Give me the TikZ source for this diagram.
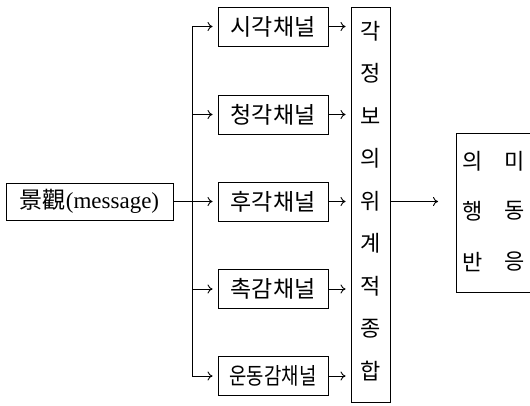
\documentclass[tikz,border=0pt]{standalone}
\usepackage{fontspec}
\setmainfont{Liberation Serif}
\newfontfamily\kr{Noto Sans CJK KR}
\usetikzlibrary{arrows.meta}
\begin{document}
\begin{tikzpicture}[x=1pt,y=-1pt,
  box/.style={draw, line width=0.9pt, inner sep=0pt},
  chbox/.style={box, minimum width=110pt, minimum height=39pt, font=\kr\fontsize{23}{23}\selectfont},
  krtext/.style={inner sep=0pt, font=\kr\fontsize{22}{22}\selectfont},
  arr/.style={line width=0.9pt, -{To[length=5pt,width=9pt]}, shorten >=5pt},
  ln/.style={line width=1pt}]
\useasboundingbox (0,0) rectangle (530,406);
\clip (0,0) rectangle (530,406);
% source
\node[box, minimum width=167pt, minimum height=37pt] (msg) at (89.5,201.5)
  {{\kr\fontsize{23}{23}\selectfont 景觀}{\fontsize{23}{23}\selectfont (message)}};
% channels
\node[chbox] (ch1) at (273,26.5) {시각채널};
\node[chbox] (ch2) at (273,114.5) {청각채널};
\node[chbox] (ch3) at (273,201.5) {후각채널};
\node[chbox] (ch4) at (273,289) {촉감채널};
\node[chbox] (ch5) at (273,376) {\scalebox{0.82}[1]{운동감채널}};
% integration box
\node[box, minimum width=39pt, minimum height=395pt] (tall) at (370.5,204.5) {};
\foreach \t [count=\i from 0] in {각,정,보,의,위,계,적,종,합}
  \node[krtext] (c\i) at (370.5,31+42.5*\i) {\t};
% response box
\node[box, minimum width=90pt, minimum height=159pt] (resp) at (501,212.5) {};
\node[krtext] (r1) at (473,161) {의};
\node[krtext] (r2) at (515,161) {미};
\node[krtext] (r3) at (473,211) {행};
\node[krtext] (r4) at (515,211) {동};
\node[krtext] (r5) at (473,262) {반};
\node[krtext] (r6) at (515,262) {응};
% trunk
\coordinate (tt) at (192,26.5);
\coordinate (tb) at (192,376);
\draw[ln] (tt) -- (tb);
\draw[ln] (msg.east) -- (msg.east -| tt);
\foreach \c in {ch1,ch2,ch3,ch4,ch5}{
  \draw[arr] (tt |- \c.west) -- (\c.west);
  \draw[arr] (\c.east) -- (\c.east -| tall.west);
}
\coordinate (rin) at (443,201.5);
\draw[arr] (tall.east |- msg.east) -- (rin);
\end{tikzpicture}
\end{document}
